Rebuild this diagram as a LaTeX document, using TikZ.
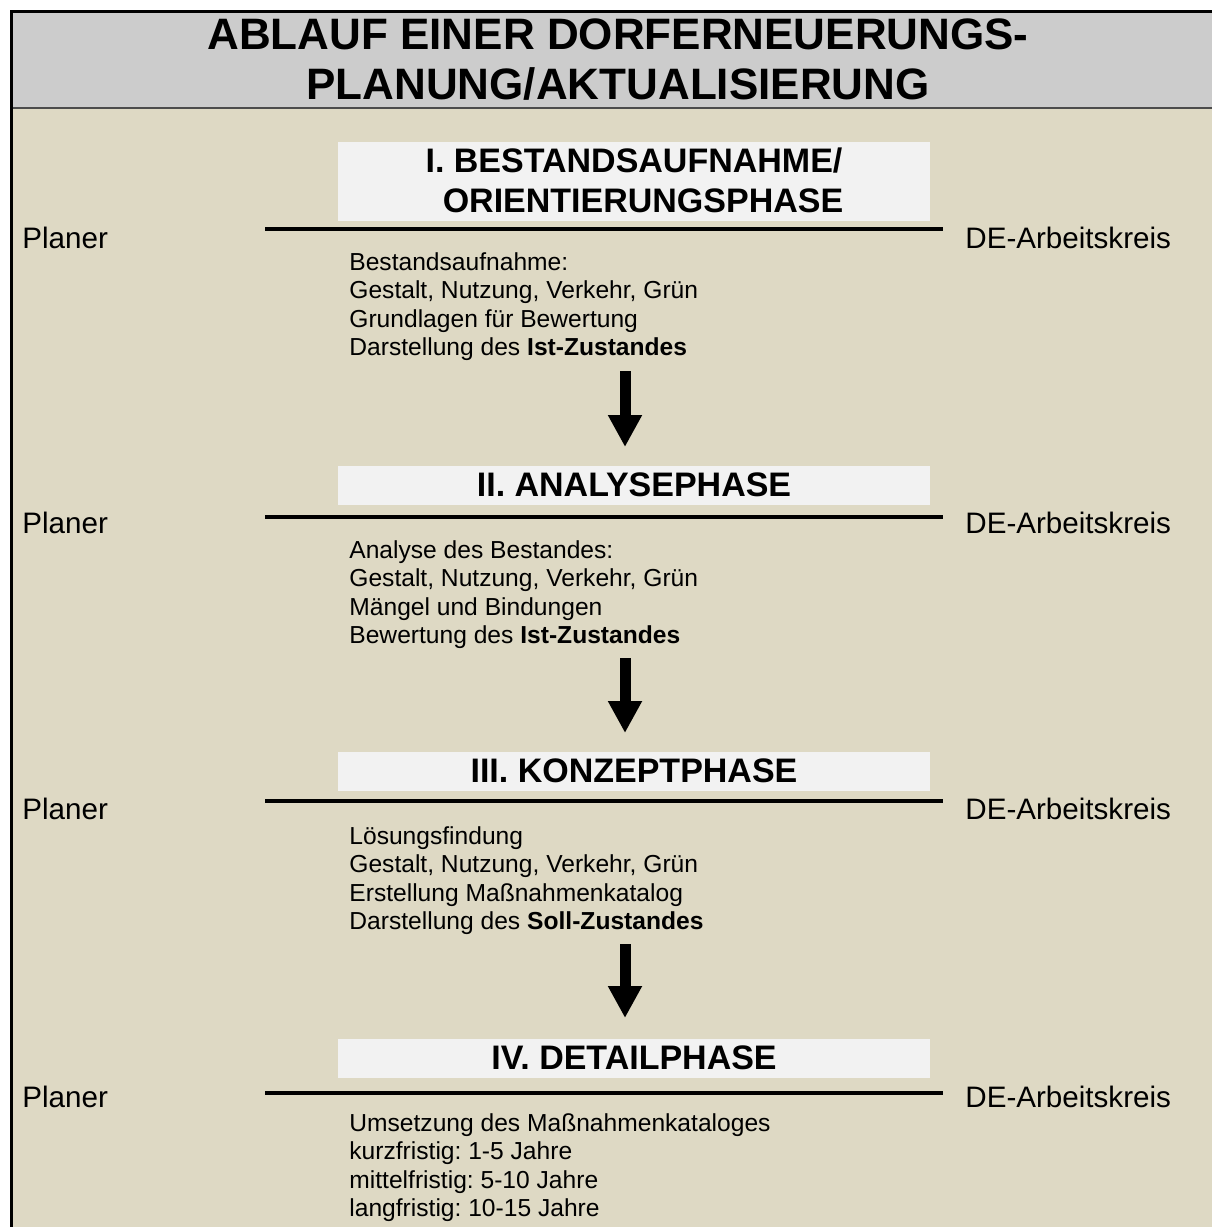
\documentclass[tikz,border=0pt]{standalone}
\usepackage{fontspec}
\setmainfont{Liberation Sans}
\usetikzlibrary{arrows.meta}
\definecolor{bandgray}{HTML}{CCCCCC}
\definecolor{beige}{HTML}{DED9C4}
\definecolor{boxwhite}{HTML}{F2F2F2}
\frenchspacing

\begin{document}
\begin{tikzpicture}[x=0.5pt, y=-0.5pt,
    phase/.style={fill=boxwhite, minimum width=296pt, inner sep=0pt, align=center,
      font=\bfseries\fontsize{17}{20}\selectfont},
    body/.style={anchor=north west, inner sep=0pt, align=left,
      font=\fontsize{12.3}{14.25}\selectfont},
    side/.style={anchor=west, inner sep=0pt, font=\fontsize{14.8}{17}\selectfont},
    rule/.style={line width=2pt},
    flow/.style={line width=5.5pt, -{Triangle[width=16pt, length=16pt]}}]
    \useasboundingbox (0, 0) rectangle (1212, 1227);
    % frame and title band
    \fill [white] (0, 0) rectangle (1212, 1227);
    \fill [beige] (11, 11) rectangle (1212, 1227);
    \fill [bandgray] (11, 11) rectangle (1212, 108);
    \draw [black!70, line width=1pt] (11, 108) -- (1212, 108);
    \draw [line width=1.5pt] (11, 1227) -- (11, 11) -- (1212, 11);
    \node [align=center, font=\bfseries\fontsize{22}{25}\selectfont] (title) at (618, 60)
      {ABLAUF EINER DORFERNEUERUNGS-\\PLANUNG/AKTUALISIERUNG};

    % I
    \node [phase, minimum height=39.5pt] (p1) at (634, 181) {};
    \node [align=center, font=\bfseries\fontsize{17}{20}\selectfont] (p1t) at (634, 180)
      {I. BESTANDSAUFNAHME/\\\hspace*{9pt}ORIENTIERUNGSPHASE};
    \draw [rule] (265, 229) -- (943, 229);
    \node [side] (pl1) at (22, 238) {Planer};
    \node [side] (de1) at (965, 238) {DE-Arbeitskreis};
    \node [body] (b1) at (349, 252) {Bestandsaufnahme:\\Gestalt, Nutzung, Verkehr, Grün\\Grundlagen für Bewertung\\Darstellung des \textbf{Ist-Zustandes}};
    \coordinate (a1) at (625, 371);
    \coordinate (e1) at (625, 447);
    \draw [flow] (a1) -- (e1);

    % II
    \node [phase, minimum height=19.5pt] (p2) at (634, 485) {II. ANALYSEPHASE};
    \draw [rule] (265, 517) -- (943, 517);
    \node [side] (pl2) at (22, 523) {Planer};
    \node [side] (de2) at (965, 523) {DE-Arbeitskreis};
    \node [body] (b2) at (349, 540) {Analyse des Bestandes:\\Gestalt, Nutzung, Verkehr, Grün\\Mängel und Bindungen\\Bewertung des \textbf{Ist-Zustandes}};
    \coordinate (a2) at (625, 658);
    \coordinate (e2) at (625, 733);
    \draw [flow] (a2) -- (e2);

    % III
    \node [phase, minimum height=19.5pt] (p3) at (634, 771) {III. KONZEPTPHASE};
    \draw [rule] (265, 801) -- (943, 801);
    \node [side] (pl3) at (22, 809) {Planer};
    \node [side] (de3) at (965, 809) {DE-Arbeitskreis};
    \node [body] (b3) at (349, 826) {Lösungsfindung\\Gestalt, Nutzung, Verkehr, Grün\\Erstellung Maßnahmenkatalog\\Darstellung des \textbf{Soll-Zustandes}};
    \coordinate (a3) at (625, 944);
    \coordinate (e3) at (625, 1018);
    \draw [flow] (a3) -- (e3);

    % IV
    \node [phase, minimum height=19.5pt] (p4) at (634, 1058) {IV. DETAILPHASE};
    \draw [rule] (265, 1093) -- (943, 1093);
    \node [side] (pl4) at (22, 1097) {Planer};
    \node [side] (de4) at (965, 1097) {DE-Arbeitskreis};
    \node [body] (b4) at (349, 1113) {Umsetzung des Maßnahmenkataloges\\kurzfristig: 1-5 Jahre\\mittelfristig: 5-10 Jahre\\langfristig: 10-15 Jahre};
  \end{tikzpicture}
\end{document}
